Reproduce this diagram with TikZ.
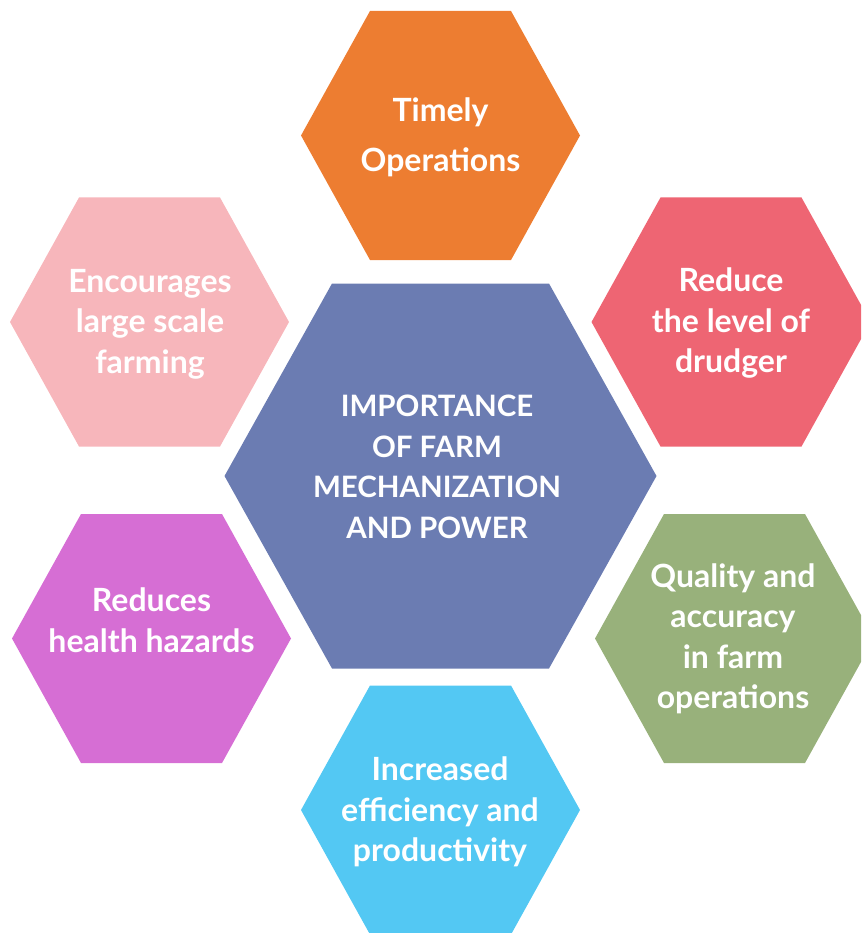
\documentclass[tikz,border=0pt]{standalone}
\usepackage{fontspec}
\setmainfont{Lato}
\definecolor{cOrange}{RGB}{237,125,49}
\definecolor{cPink}{RGB}{247,182,187}
\definecolor{cRed}{RGB}{238,101,115}
\definecolor{cCenter}{RGB}{107,124,178}
\definecolor{cPurple}{RGB}{214,110,212}
\definecolor{cGreen}{RGB}{152,177,123}
\definecolor{cBlue}{RGB}{83,200,243}
% colour, cx, cy, half width, half top edge, half height
\newcommand{\hexshape}[6]{%
  \fill[#1] ({#2-#4},#3) -- ({#2-#5},{#3-#6}) -- ({#2+#5},{#3-#6}) -- ({#2+#4},#3)
    -- ({#2+#5},{#3+#6}) -- ({#2-#5},{#3+#6}) -- cycle;}
\begin{document}
\begin{tikzpicture}[x=1pt,y=-1pt,
  lbl/.style={text=white,align=center,inner sep=0pt,
    font=\fontsize{32}{40.5}\selectfont\bfseries}]
\useasboundingbox (0,0) rectangle (861,933);
\clip (0,0) rectangle (861,933);
\hexshape{cOrange}{440.5}{135.5}{139.5}{70.5}{124.5}
\hexshape{cPink}{149.5}{322}{139.5}{70.5}{124.5}
\hexshape{cRed}{731}{322}{139.5}{70.5}{124.5}
\hexshape{cCenter}{440.5}{476}{216}{108.5}{192.5}
\hexshape{cPurple}{151.5}{638.5}{139.5}{70.5}{124.5}
\hexshape{cGreen}{734.5}{638.5}{139.5}{70.5}{124.5}
\hexshape{cBlue}{440.5}{810}{139.5}{70.5}{124.5}
\node[lbl,font=\fontsize{32}{50}\selectfont\bfseries] (timely) at (440.5,137) {Timely\\Operations};
\node[lbl] (encourages) at (150,324) {Encourages\\large scale\\farming};
\node[lbl] (reduce) at (731,323) {Reduce\\the level of\\drudger};
\node[lbl,font=\fontsize{29.5}{40.5}\selectfont\bfseries] (importance) at (437,467) {IMPORTANCE\\OF FARM\\MECHANIZATION\\AND POWER};
\node[lbl] (health) at (151.5,620) {Reduces\\health hazards};
\node[lbl] (quality) at (733,639) {Quality and\\accuracy\\in farm\\operations};
\node[lbl] (efficiency) at (440,812) {Increased\\efficiency and\\productivity};
\end{tikzpicture}
\end{document}
